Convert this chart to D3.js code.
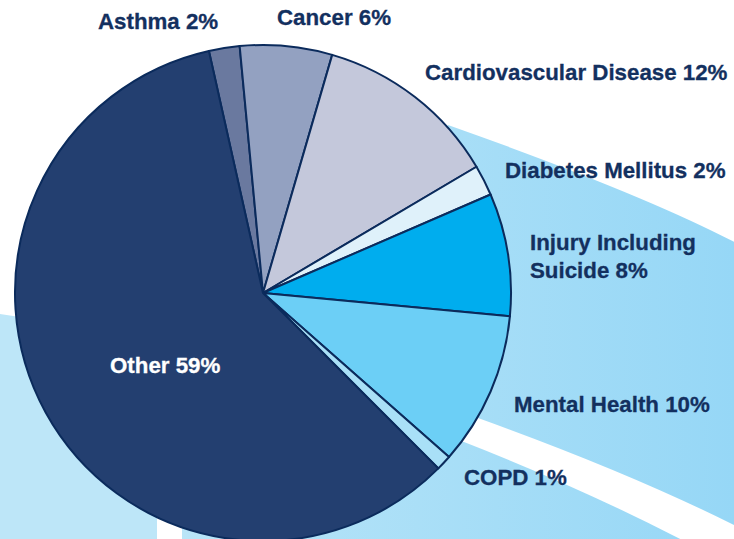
<!DOCTYPE html>
<html>
<head>
<meta charset="utf-8">
<script src="https://cdn.jsdelivr.net/npm/d3@7"></script>
<style>
  body { margin: 0; background: #ffffff; }
  svg { display: block; }
</style>
</head>
<body>
<svg id="chart"></svg>
<script>
// slice data, clockwise from the top
var categories = ["Asthma", "Cancer", "Cardiovascular Disease", "Diabetes Mellitus",
                  "Injury Including Suicide", "Mental Health", "COPD", "Other"];
var values = [2, 6, 12, 2, 8, 10, 1, 59];
var labelLines = [["Asthma 2%"], ["Cancer 6%"], ["Cardiovascular Disease 12%"], ["Diabetes Mellitus 2%"],
                  ["Injury Including", "Suicide 8%"], ["Mental Health 10%"], ["COPD 1%"], ["Other 59%"]];

var width = 734;
var height = 539;

var sliceColors = {
    "Asthma": "#6a799f",
    "Cancer": "#93a1c1",
    "Cardiovascular Disease": "#c4c8db",
    "Diabetes Mellitus": "#dff1fa",
    "Injury Including Suicide": "#00adee",
    "Mental Health": "#6ccff6",
    "COPD": "#a9e0f7",
    "Other": "#233f70"
};

// where each label sits (left edge, first baseline)
var labelPos = {
    "Asthma": [98, 29],
    "Cancer": [277, 25],
    "Cardiovascular Disease": [425, 80],
    "Diabetes Mellitus": [505, 178],
    "Injury Including Suicide": [530, 250],
    "Mental Health": [514, 412],
    "COPD": [464, 485],
    "Other": [110, 373]
};

var svg = d3.select("#chart")
    .attr("width", width)
    .attr("height", height);

// background swooshes
var defs = svg.append("defs");
var grad = defs.append("linearGradient")
    .attr("id", "bandGrad")
    .attr("gradientUnits", "userSpaceOnUse")
    .attr("x1", 180).attr("y1", 0)
    .attr("x2", 734).attr("y2", 0);
grad.append("stop").attr("offset", "0%").attr("stop-color", "#b9e5f8");
grad.append("stop").attr("offset", "100%").attr("stop-color", "#96d7f6");

var bg = svg.append("g");

// left band
bg.append("path")
    .attr("d", "M0,314 Q90,326 157,360 L157,539 L0,539 Z")
    .attr("fill", "#bde6f8");

// lower band (below the white stripe)
bg.append("path")
    .attr("d", "M182,539 L182,400 L464,442 Q600,495 720,560 L182,560 Z")
    .attr("fill", "url(#bandGrad)");

// upper right band
bg.append("path")
    .attr("d", "M448,125 Q646,195 740,245 L740,528 Q631,473 478,418 L330,300 Z")
    .attr("fill", "url(#bandGrad)");

// pie
var cx = 263, cy = 293, radius = 248;
var startAngle = -12.6 * Math.PI / 180;

var pie = d3.pie()
    .sort(null)
    .value(function(d) { return d.value; })
    .startAngle(startAngle)
    .endAngle(startAngle + 2 * Math.PI);

var data = categories.map(function(c, i) {
    return { name: c, value: values[i], lines: labelLines[i] };
});

var arc = d3.arc()
    .innerRadius(0)
    .outerRadius(radius);

var g = svg.append("g")
    .attr("transform", "translate(" + cx + "," + cy + ")");

g.selectAll("path.slice")
    .data(pie(data))
    .enter()
    .append("path")
    .attr("class", "slice")
    .attr("d", arc)
    .attr("fill", function(d) { return sliceColors[d.data.name]; })
    .attr("stroke", "#0b2b5c")
    .attr("stroke-width", 2)
    .attr("stroke-linejoin", "round");

// labels
var labels = svg.append("g")
    .style("font-family", "'Liberation Sans', Arial, sans-serif")
    .style("font-weight", "bold")
    .style("font-size", "22.3px");

data.forEach(function(d) {
    var p = labelPos[d.name];
    var col = d.name === "Other" ? "#ffffff" : "#13305f";
    var t = labels.append("text")
        .attr("x", p[0])
        .attr("y", p[1])
        .attr("fill", col)
        .attr("stroke", col)
        .attr("stroke-width", 0.3);
    d.lines.forEach(function(line, i) {
        t.append("tspan")
            .attr("x", p[0])
            .attr("dy", i === 0 ? 0 : 28)
            .text(line);
    });
});
</script>
</body>
</html>
